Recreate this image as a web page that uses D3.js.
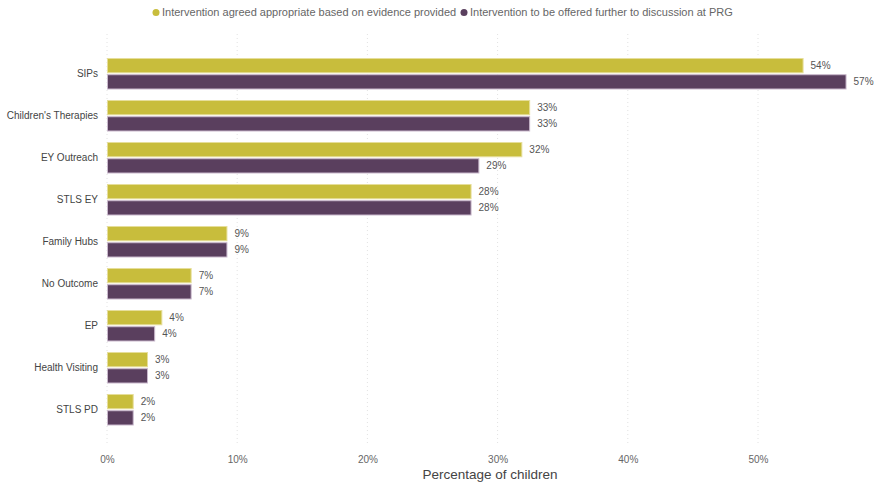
<!DOCTYPE html>
<html><head><meta charset="utf-8">
<script src="https://cdn.jsdelivr.net/npm/d3@7"></script>
<style>body{margin:0;background:#fff;font-family:"Liberation Sans",Arial,sans-serif;}</style>
</head><body><svg id="c" width="882" height="485"></svg>
<script>
const categories = ["SIPs","Children's Therapies","EY Outreach","STLS EY","Family Hubs","No Outcome","EP","Health Visiting","STLS PD"];
const seriesNames = ["Intervention agreed appropriate based on evidence provided","Intervention to be offered further to discussion at PRG"];
const agreedValues = [53.5, 32.5, 31.9, 28.0, 9.25, 6.5, 4.25, 3.15, 2.05];
const prgValues = [56.8, 32.5, 28.6, 28.0, 9.25, 6.5, 3.7, 3.15, 2.05];
const labelsAgreed = ["54%","33%","32%","28%","9%","7%","4%","3%","2%"];
const labelsPrg = ["57%","33%","29%","28%","9%","7%","4%","3%","2%"];
const tickValues = [0,10,20,30,40,50];
const colors = ["#C8BD3C","#5A3F5E"];
const strokes = ["#E6DE9A","#C9B8CC"];

const svg = d3.select("#c");
const x = d3.scaleLinear().domain([0, 10]).range([107, 237.2]);
const y = d3.scaleBand().domain(categories).range([52.75, 430.75]).paddingInner(0.25).paddingOuter(0.125);
const sub = d3.scaleBand().domain([0,1]).range([0, y.bandwidth()]).paddingInner(0.06);

// grid
svg.append("g").selectAll("line").data(tickValues).join("line")
  .attr("x1", d=>x(d)).attr("x2", d=>x(d)).attr("y1", 34).attr("y2", 446)
  .attr("stroke", "#e2e2e2").attr("stroke-dasharray","1,3");

// axis
const xa = svg.append("g").attr("transform","translate(0,446)")
  .call(d3.axisBottom(x).tickValues(tickValues).tickFormat(d=>d+"%").tickSize(0).tickPadding(10));
xa.select(".domain").remove();
xa.selectAll("text").attr("fill","#666").style("font-size","10px").style("font-family","Liberation Sans, Arial, sans-serif");

const ya = svg.append("g").attr("transform","translate(107,0)")
  .call(d3.axisLeft(y).tickSize(0).tickPadding(9));
ya.select(".domain").remove();
ya.selectAll("text").attr("fill","#444").style("font-size","10px").style("font-family","Liberation Sans, Arial, sans-serif");

const series = [agreedValues, prgValues];
const labels = [labelsAgreed, labelsPrg];
series.forEach((vals, si) => {
  const g = svg.append("g");
  g.selectAll("rect").data(categories).join("rect")
    .attr("x", x(0)+0.5)
    .attr("y", (c)=>y(c)+sub(si)+0.5)
    .attr("width", (c,i)=>x(vals[i])-x(0)-1)
    .attr("height", sub.bandwidth()-1)
    .attr("fill", colors[si]).attr("stroke", strokes[si]).attr("stroke-width",1);
  g.selectAll("text").data(categories).join("text")
    .attr("x", (c,i)=>x(vals[i])+7)
    .attr("y", (c)=>y(c)+sub(si)+sub.bandwidth()/2)
    .attr("dy","0.35em")
    .attr("fill","#555").style("font-size","10px")
    .text((c,i)=>labels[si][i]);
});

// x title
svg.append("text").attr("x", 490).attr("y", 479).attr("text-anchor","middle")
  .attr("fill","#444").style("font-size","13.5px").text("Percentage of children");

// legend
const leg = svg.append("g");
const legX = [156, 464];
seriesNames.forEach((n,i)=>{
  leg.append("circle").attr("cx", legX[i]).attr("cy", 12.5).attr("r", 3.5).attr("fill", colors[i]);
  leg.append("text").attr("x", legX[i]+6).attr("y", 12.5).attr("dy","0.35em")
    .attr("fill","#666").style("font-size","11px").text(n);
});
</script></body></html>
